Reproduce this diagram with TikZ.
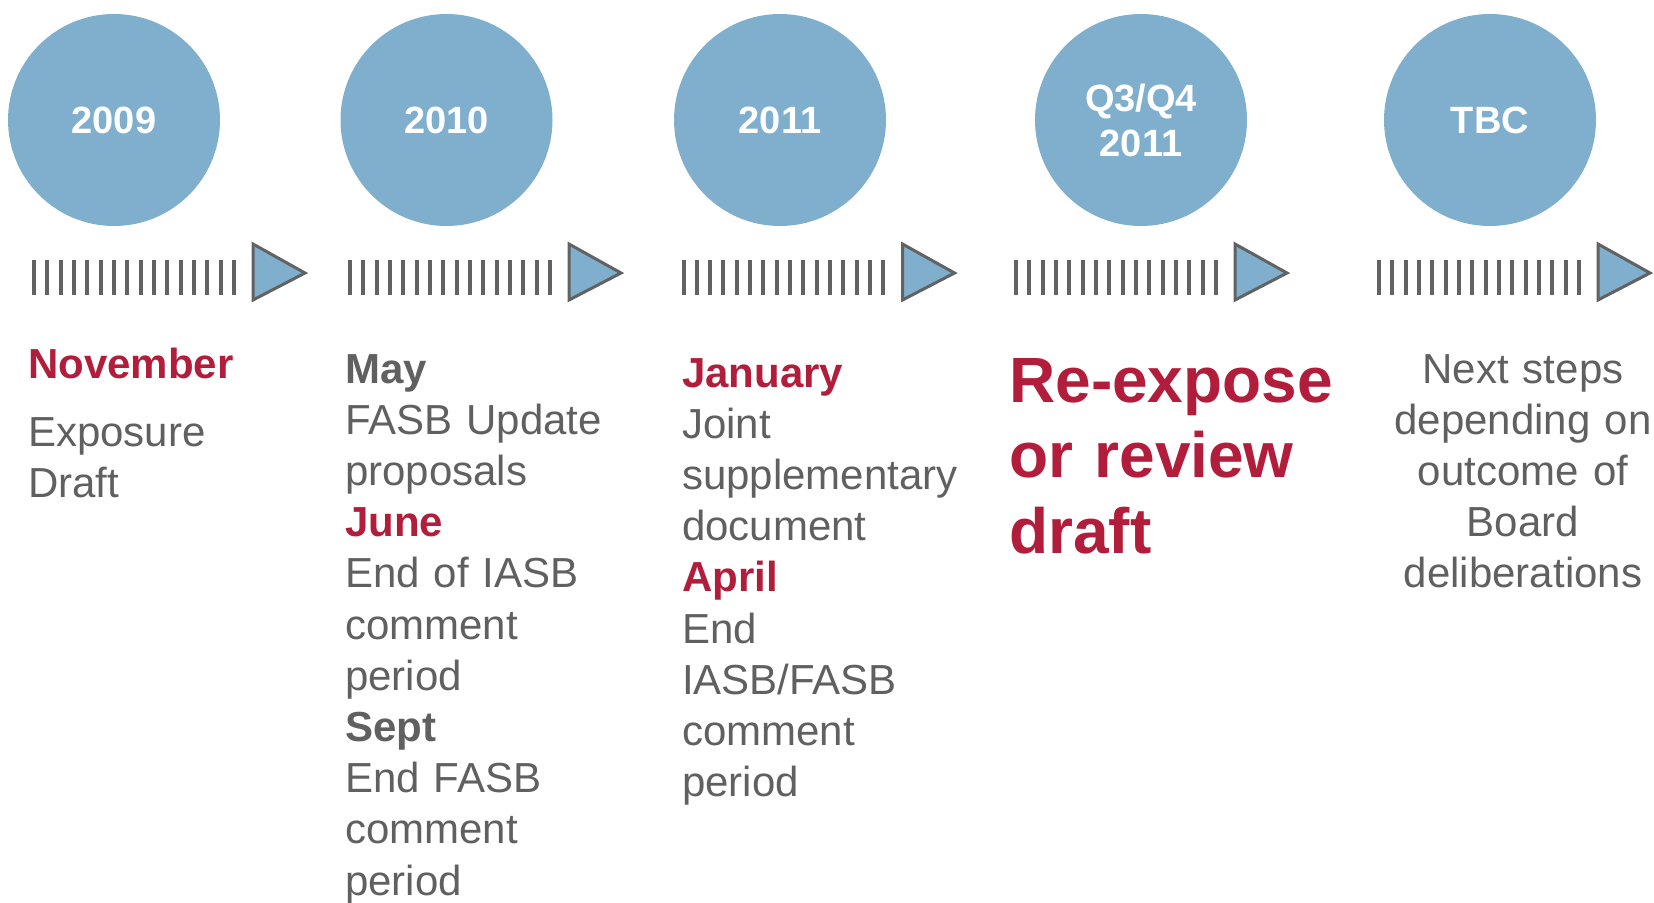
\documentclass[tikz,border=0pt]{standalone}
\usepackage{fontspec}
\setmainfont{Liberation Sans}
\definecolor{yearblue}{RGB}{127,175,205}
\definecolor{txtgray}{RGB}{96,96,96}
\definecolor{monthred}{RGB}{178,29,59}
\definecolor{bargray}{RGB}{98,98,98}
\newcommand{\redmonth}[1]{{\bfseries\color{monthred}#1}}

\begin{document}
\begin{tikzpicture}[x=1pt, y=-1pt]
\tikzset{
    yearnode/.style={circle, fill=yearblue, minimum size=212pt, inner sep=0pt, text=white, align=center, font=\fontsize{38}{45}\selectfont\bfseries},
    coltext/.style={anchor=base west, inner sep=0pt, text=txtgray, text width=#1, align=left, font=\fontsize{42}{51.2}\selectfont},
    tickbar/.style={draw=bargray, line width=4pt},
    arrowtri/.style={draw=bargray, fill=yearblue, line width=3pt}
}
\useasboundingbox (0,0) rectangle (1654,902);
% years
\node[yearnode] (y2009) at (114,120) {2009};
\node[yearnode] (y2010) at (446.5,120) {2010};
\node[yearnode] (y2011) at (780,120) {2011};
\node[yearnode] (q34) at (1141,120) {Q3/Q4\\2011};
\node[yearnode] (tbc) at (1490,120) {TBC};
% dashed arrows
\foreach \s in {32,348,681.5,1014,1377}{
    \foreach \i in {0,...,15}
        \draw[tickbar] (\s+2+\i*13.33,260) -- (\s+2+\i*13.33,295);
    \draw[arrowtri] (\s+221,244) -- (\s+273,273) -- (\s+221,300) -- cycle;
}
% texts
\node[coltext=260pt] (nov) at (28,378) {\redmonth{November}\\[16.8pt]Exposure\\Draft};
\node[coltext=300pt] (may) at (345,383) {\textbf{May}\\FASB Update\\proposals\\\redmonth{June}\\End of IASB\\comment\\period\\\textbf{Sept}\\End FASB\\comment\\period};
\node[coltext=300pt] (jan) at (682,387) {\redmonth{January}\\Joint\\supplementary\\document\\\redmonth{April}\\End\\IASB/FASB\\comment\\period};
\node[coltext=340pt, text=monthred, font=\fontsize{64}{75.5}\selectfont\bfseries] (reexp) at (1009,402) {Re-expose\\or review\\draft};
\node[coltext=320pt, anchor=base, align=center] (next) at (1523,383) {Next steps\\depending on\\outcome of\\Board\\deliberations};
\end{tikzpicture}
\end{document}
